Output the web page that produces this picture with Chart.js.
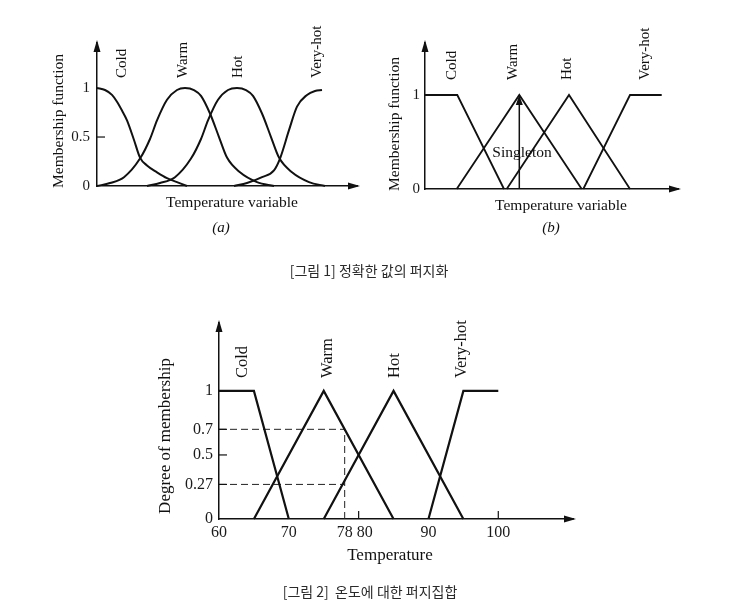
<!DOCTYPE html>
<html><head><meta charset="utf-8">
<script src="https://cdn.jsdelivr.net/npm/chart.js@4"></script>
<style>
html,body{margin:0;padding:0;background:#fff;}
#wrap{position:relative;width:755px;height:616px;overflow:hidden;background:#fff;}
canvas{position:absolute;left:0;top:0;}
.cap{position:absolute;font-family:"Noto Sans CJK KR",sans-serif;font-size:14px;color:#2a2a2a;white-space:pre;line-height:16px;transform:translateX(-50%);}
</style></head><body>
<div id="wrap">
<canvas id="ca" width="755" height="616"></canvas>
<canvas id="cb" width="755" height="616"></canvas>
<canvas id="cc" width="755" height="616"></canvas>
<div class="cap" style="left:369px;top:262px;">[그림 1] 정확한 값의 퍼지화</div>
<div class="cap" style="left:370px;top:583px;">[그림 2]  온도에 대한 퍼지집합</div>
</div>
<script>
// ---------- DATA ----------
const setNames = ['Cold','Warm','Hot','Very-hot'];

// (a) smooth membership functions (x: temperature variable, arbitrary units)
const aColdX = [0,8,15,20,25,30,37,43,50,60,70,80,90];
const aColdY = [1.0,0.98,0.93,0.86,0.77,0.67,0.47,0.29,0.21,0.14,0.08,0.04,0.0];
const aWarmX = [0,13,27,43,53,60,70,80,88,97,104,113,122,130,143,160,177];
const aWarmY = [0,0.03,0.09,0.28,0.48,0.67,0.88,0.98,1,0.98,0.92,0.74,0.5,0.29,0.14,0.04,0];
const aHotX  = [50,63,78,94,104,111,121,131,140,149,156,165,174,182,195,212,228];
const aHotY  = [0,0.03,0.09,0.28,0.48,0.67,0.88,0.98,1,0.98,0.92,0.74,0.5,0.29,0.14,0.04,0];
const aVhotX = [137,150,165,177,183,192,200,210,218,225];
const aVhotY = [0,0.03,0.09,0.16,0.28,0.57,0.81,0.93,0.97,0.98];
const aYTicks = [0,0.5,1];
const aLabelX = [25,86,141,220];

// (b) triangular / trapezoid membership functions
const bColdX = [0,32.3,79];      const bColdY = [1,1,0];
const bWarmX = [31.7,94.3,156.7]; const bWarmY = [0,1,0];
const bHotX  = [81.7,144,205];   const bHotY  = [0,1,0];
const bVhotX = [158.3,205,236.7]; const bVhotY = [0,1,1];
const bSingletonX = [94.3,94.3]; const bSingletonY = [0,0.97];
const bYTicks = [0,1];
const bLabelX = [27,88,142,220];

// Figure 2: fuzzy sets for temperature
const cColdX = [60,65,70];  const cColdY = [1,1,0];
const cWarmX = [65,75,85];  const cWarmY = [0,1,0];
const cHotX  = [75,85,95];  const cHotY  = [0,1,0];
const cVhotX = [90,95,100]; const cVhotY = [0,1,1];
const cDash07X = [60,78];  const cDash07Y = [0.7,0.7];
const cDash27X = [60,78];  const cDash27Y = [0.27,0.27];
const cDash78X = [78,78];  const cDash78Y = [0,0.7];
const cXTicks = [60,70,78,80,90,100];
const cYTicks = [0,0.27,0.5,0.7,1];
const cLabelX = [63.4,75.5,85.2,94.8];

// ---------- HELPERS ----------
const SERIF = '"Liberation Serif","Times New Roman",serif';
const INK = '#111';
const zip = (xs, ys) => xs.map((x,i)=>({x, y: ys[i]}));
function line(xs, ys, extra){ return Object.assign({data: zip(xs,ys), borderColor: INK, borderWidth: 2, pointRadius: 0, fill:false, clip:false, tension:0}, extra||{}); }
function fixTicks(arr){ return s => { s.ticks = arr.map(v=>({value:v})); }; }

function decor(cfg){
  return { id:'decor', afterDraw(chart){
    const ctx = chart.ctx, xs = chart.scales.x, ys = chart.scales.y, a = chart.chartArea;
    ctx.save();
    ctx.fillStyle = INK; ctx.strokeStyle = INK;
    // axis arrowheads
    ctx.beginPath(); ctx.moveTo(a.left, a.top-3); ctx.lineTo(a.left-3.5, a.top+9); ctx.lineTo(a.left+3.5, a.top+9); ctx.closePath(); ctx.fill();
    ctx.beginPath(); ctx.moveTo(a.right+3, a.bottom); ctx.lineTo(a.right-9, a.bottom-3.5); ctx.lineTo(a.right-9, a.bottom+3.5); ctx.closePath(); ctx.fill();
    // inner tick marks
    ctx.lineWidth = 1.2;
    (cfg.innerY||[]).forEach(v=>{ const y = ys.getPixelForValue(v); ctx.beginPath(); ctx.moveTo(a.left, y); ctx.lineTo(a.left+cfg.tickLen, y); ctx.stroke(); });
    (cfg.innerX||[]).forEach(v=>{ const x = xs.getPixelForValue(v); ctx.beginPath(); ctx.moveTo(x, a.bottom); ctx.lineTo(x, a.bottom-cfg.tickLen); ctx.stroke(); });
    // singleton arrowhead
    if (cfg.arrowAt){ const x = xs.getPixelForValue(cfg.arrowAt[0]), y = ys.getPixelForValue(cfg.arrowAt[1]);
      ctx.beginPath(); ctx.moveTo(x, y); ctx.lineTo(x-3.5, y+10); ctx.lineTo(x+3.5, y+10); ctx.closePath(); ctx.fill(); }
    // rotated set labels
    ctx.font = cfg.labelFont;
    cfg.labels.forEach((t,i)=>{ const x = xs.getPixelForValue(cfg.labelX[i]);
      ctx.save(); ctx.translate(x, cfg.labelBottom); ctx.rotate(-Math.PI/2); ctx.textAlign='left'; ctx.textBaseline='middle'; ctx.fillText(t,0,0); ctx.restore(); });
    // titles
    (cfg.texts||[]).forEach(t=>{
      ctx.save(); ctx.font = t.font; ctx.translate(t.x, t.y); if (t.rot) ctx.rotate(-Math.PI/2);
      ctx.textAlign='center'; ctx.textBaseline='middle'; ctx.fillText(t.s,0,0); ctx.restore(); });
    ctx.restore();
  }};
}

function makeChart(id, datasets, o){
  const yW = 40, xH = o.xTicks ? 30 : 0;
  return new Chart(document.getElementById(id), {
    type:'line',
    data:{datasets},
    options:{
      responsive:false, animation:false, devicePixelRatio:1,
      layout:{padding:{left:o.left - yW, top:o.top, right:755-o.right, bottom:616-o.bottom-xH}},
      plugins:{legend:{display:false}, tooltip:{enabled:false}},
      elements:{line:{borderCapStyle:'butt', borderJoinStyle:'miter'}},
      scales:{
        x:{type:'linear', min:o.xmin, max:o.xmax,
           grid:{display:false, drawTicks:false}, border:{display:true, color:INK, width:1.5},
           afterBuildTicks: o.xTicks ? fixTicks(o.xTicks) : undefined,
           afterFit: s=>{ s.height = xH; },
           ticks:{display: !!o.xTicks, autoSkip:false, maxRotation:0, minRotation:0, padding:4, color:'#1a1a1a',
                  font:{family:SERIF, size:o.tickSize},
                  callback: v => (v===80 ? '   ' : '') + String(v)}},
        y:{type:'linear', min:0, max:o.ymax,
           grid:{display:false, drawTicks:false}, border:{display:true, color:INK, width:1.5},
           afterBuildTicks: fixTicks(o.yTicks),
           afterFit: s=>{ s.width = yW; },
           ticks:{display:true, autoSkip:false, padding:o.yPad, color:'#1a1a1a',
                  font:{family:SERIF, size:o.tickSize}, callback: v => String(v)}}
      }
    },
    plugins:[decor(o.decor)]
  });
}

// ---------- (a) ----------
makeChart('ca', [
  line(aColdX, aColdY, {cubicInterpolationMode:'monotone'}),
  line(aWarmX, aWarmY, {cubicInterpolationMode:'monotone'}),
  line(aHotX,  aHotY,  {cubicInterpolationMode:'monotone'}),
  line(aVhotX, aVhotY, {cubicInterpolationMode:'monotone'})
], {left:97, top:43, right:357, bottom:186, xmin:0, xmax:260, ymax:1.46, yTicks:aYTicks, yPad:7, tickSize:15,
    decor:{innerY:[0.5], tickLen:8, labels:setNames, labelX:aLabelX, labelBottom:78, labelFont:'15px '+SERIF,
      texts:[{s:'Membership function', x:59, y:121, rot:true, font:'15.5px '+SERIF},
             {s:'Temperature variable', x:232, y:203, font:'15.5px '+SERIF},
             {s:'(a)', x:221, y:228, font:'italic 15px '+SERIF}]}});

// ---------- (b) ----------
makeChart('cb', [
  line(bColdX, bColdY, {borderWidth:1.8}),
  line(bWarmX, bWarmY, {borderWidth:1.8}),
  line(bHotX,  bHotY,  {borderWidth:1.8}),
  line(bVhotX, bVhotY, {borderWidth:1.8}),
  line(bSingletonX, bSingletonY, {borderWidth:1.5})
], {left:425, top:43, right:678, bottom:189, xmin:0, xmax:253, ymax:1.553, yTicks:bYTicks, yPad:5, tickSize:15,
    decor:{innerY:[], tickLen:8, arrowAt:[94.3,1], labels:setNames, labelX:bLabelX, labelBottom:80, labelFont:'15px '+SERIF,
      texts:[{s:'Membership function', x:395, y:124, rot:true, font:'15.5px '+SERIF},
             {s:'Singleton', x:522, y:153, font:'15.5px '+SERIF},
             {s:'Temperature variable', x:561, y:206, font:'15.5px '+SERIF},
             {s:'(b)', x:551, y:228, font:'italic 15px '+SERIF}]}});

// ---------- Figure 2 ----------
const dash = {borderWidth:1, borderDash:[7,4], borderColor:'#222'};
makeChart('cc', [
  line(cColdX, cColdY, {borderWidth:2.2}),
  line(cWarmX, cWarmY, {borderWidth:2.2}),
  line(cHotX,  cHotY,  {borderWidth:2.2}),
  line(cVhotX, cVhotY, {borderWidth:2.2}),
  line(cDash07X, cDash07Y, dash),
  line(cDash27X, cDash27Y, dash),
  line(cDash78X, cDash78Y, dash)
], {left:219, top:323, right:573, bottom:519, xmin:60, xmax:110.7, ymax:1.53, xTicks:cXTicks, yTicks:cYTicks, yPad:6, tickSize:16,
    decor:{innerY:[1,0.7,0.5,0.27], innerX:[80,100], tickLen:8, labels:setNames, labelX:cLabelX, labelBottom:378, labelFont:'16.5px '+SERIF,
      texts:[{s:'Degree of membership', x:166, y:436, rot:true, font:'17px '+SERIF},
             {s:'Temperature', x:390, y:556, font:'17px '+SERIF}]}});
</script>
</body></html>
